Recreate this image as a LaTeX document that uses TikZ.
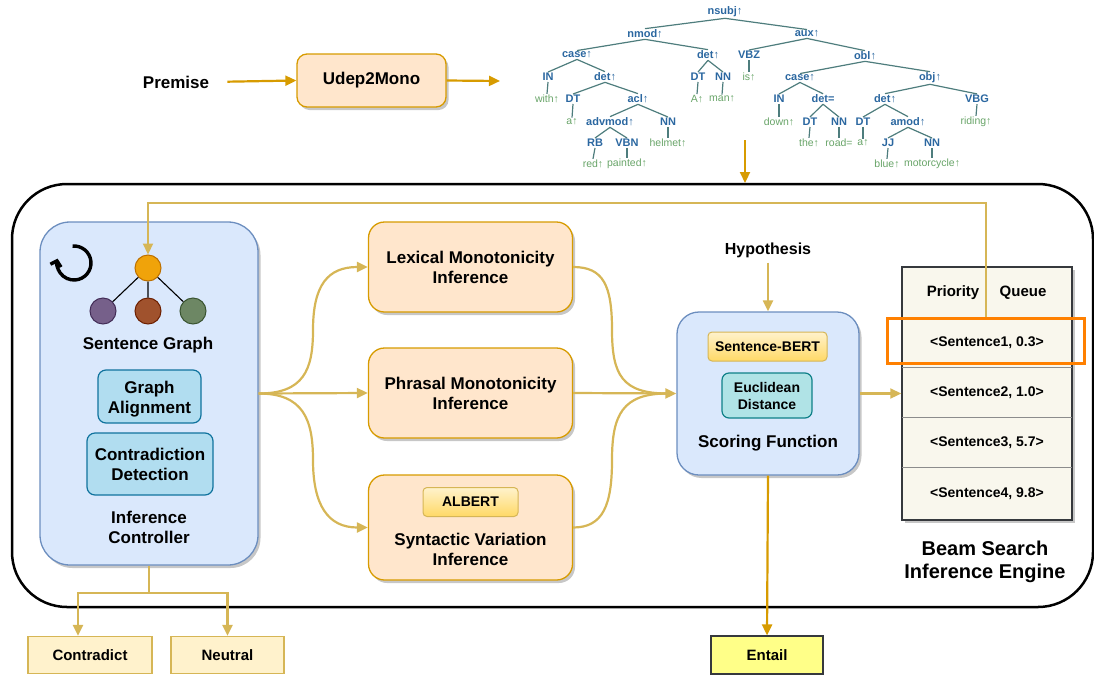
\documentclass[tikz,border=0pt]{standalone}
\usepackage{fontspec}
\setmainfont{Liberation Sans}
\usetikzlibrary{arrows.meta,shadows}
\definecolor{peach}{HTML}{FFE6CC}
\definecolor{peachb}{HTML}{D79B00}
\definecolor{bluef}{HTML}{DAE8FC}
\definecolor{blueb}{HTML}{6C8EBF}
\definecolor{lbf}{HTML}{B1DDF0}
\definecolor{lbb}{HTML}{10739E}
\definecolor{tealf}{HTML}{B0E3E6}
\definecolor{tealb}{HTML}{0E8088}
\definecolor{yelt}{HTML}{FFF2CC}
\definecolor{yelb}{HTML}{FFD966}
\definecolor{yelbd}{HTML}{D6B656}
\definecolor{entf}{HTML}{FFFF88}
\definecolor{darkb}{HTML}{36393D}
\definecolor{pqf}{HTML}{F9F7ED}
\definecolor{conn}{HTML}{D6B656}
\definecolor{depblue}{HTML}{2B67A0}
\definecolor{depgreen}{HTML}{68A468}
\definecolor{depline}{HTML}{4E7D7D}
\definecolor{hlor}{HTML}{FF8000}
\definecolor{gor}{HTML}{F0A30A}\definecolor{gorb}{HTML}{BD7000}
\definecolor{gpu}{HTML}{76608A}\definecolor{gpub}{HTML}{432D57}
\definecolor{gbr}{HTML}{A0522D}\definecolor{gbrb}{HTML}{6D1F00}
\definecolor{ggr}{HTML}{6D8764}\definecolor{ggrb}{HTML}{3A5431}
\newcommand\myfs[2]{\fontsize{#1}{#2}\selectfont}
\begin{document}
\begin{tikzpicture}[x=1pt,y=-1pt,
  shad/.style={drop shadow={shadow xshift=2.5pt,shadow yshift=-3pt,fill=black,opacity=0.22}},
  lbl/.style={font=\bfseries\myfs{17}{20}, align=center, inner sep=0pt},
  peachbox/.style={draw=peachb, fill=peach, line width=1.3pt, rounded corners=16pt, shad, lbl},
  bluebox/.style={draw=blueb, fill=bluef, line width=1.3pt, shad, lbl},
  lbbox/.style={draw=lbb, fill=lbf, line width=1.2pt, rounded corners=8pt, lbl},
  tealbox/.style={draw=tealb, fill=tealf, line width=1.2pt, rounded corners=7pt, lbl, font=\bfseries\myfs{14}{17}},
  gradbox/.style={draw=yelbd, top color=yelt, bottom color=yelb, line width=1pt, rounded corners=4pt, lbl, font=\bfseries\myfs{14}{16}},
  outbox/.style={draw=yelbd, fill=yelt, line width=1.2pt, lbl, font=\bfseries\myfs{15}{17}},
  gnode/.style={circle, minimum size=26pt, inner sep=0pt, line width=1pt},
  pqrow/.style={minimum width=170pt, inner sep=0pt, font=\bfseries\myfs{14}{16}},
  sep/.style={draw=black!45, line width=1pt},
  carr/.style={draw=conn, line width=2.2pt, -{Triangle[length=11pt,width=10pt]}},
  cline/.style={draw=conn, line width=2.2pt},
  darr/.style={draw=peachb, line width=2.2pt, -{Triangle[length=11pt,width=10pt]}},
  dl/.style={text=depblue, font=\bfseries\myfs{11}{12}, inner sep=1pt},
  dw/.style={text=depgreen, font=\myfs{10.5}{12}, inner sep=1pt},
  de/.style={draw=depline, line width=1.2pt}
]
\useasboundingbox (0,0) rectangle (1094,675);

% ---------- top row ----------
\node[lbl] (prem) at (176,82) {Premise};
\node[peachbox, rounded corners=10pt, minimum width=149pt, minimum height=53pt] (udep) at (371.5,80.5) {Udep2Mono};
\coordinate (treein) at (500,81);
\draw[darr, shorten <=18pt] (prem.east) -- (udep.west);
\draw[darr] (udep.east) -- (treein);

% ---------- dependency tree ----------
\node[dl] (n0) at (725,12) {nsubj↑};
\node[dl] (n1) at (645,34) {nmod↑};
\node[dl] (n2) at (807,34) {aux↑};
\node[dl] (n3) at (577,55) {case↑};
\node[dl] (n4) at (708,55) {det↑};
\node[dl] (n5) at (749,55) {VBZ};
\node[dl] (n6) at (865,56) {obl↑};
\node[dl] (n7) at (548,77) {IN};
\node[dw] (w7) at (547,99) {with↑};
\node[dl] (n8) at (605,77) {det↑};
\node[dl] (n9) at (698,77) {DT};
\node[dw] (w9) at (697,99) {A↑};
\node[dl] (n10) at (723,77) {NN};
\node[dw] (w10) at (722,99) {man↑};
\node[dw] (w5) at (749,77) {is↑};
\node[dl] (n11) at (800,78) {case↑};
\node[dl] (n12) at (930,78) {obj↑};
\node[dl] (n13) at (573,99) {DT};
\node[dw] (w13) at (572,122) {a↑};
\node[dl] (n14) at (638,99) {acl↑};
\node[dl] (n15) at (779,99) {IN};
\node[dw] (w15) at (779,122) {down↑};
\node[dl] (n16) at (823,99) {det=};
\node[dl] (n17) at (885,99) {det↑};
\node[dl] (n18) at (977,99) {VBG};
\node[dw] (w18) at (976,122) {riding↑};
\node[dl] (n19) at (610,122) {advmod↑};
\node[dl] (n20) at (668,122) {NN};
\node[dw] (w20) at (668,143) {helmet↑};
\node[dl] (n21) at (810,122) {DT};
\node[dw] (w21) at (809,143) {the↑};
\node[dl] (n22) at (839,122) {NN};
\node[dw] (w22) at (839,143) {road=};
\node[dl] (n23) at (863,122) {DT};
\node[dw] (w23) at (863,143) {a↑};
\node[dl] (n24) at (908,122) {amod↑};
\node[dl] (n25) at (595,143) {RB};
\node[dw] (w25) at (593,164) {red↑};
\node[dl] (n26) at (627,143) {VBN};
\node[dw] (w26) at (627,164) {painted↑};
\node[dl] (n27) at (888,143) {JJ};
\node[dw] (w27) at (887,164) {blue↑};
\node[dl] (n28) at (932,143) {NN};
\node[dw] (w28) at (932,164) {motorcycle↑};
\foreach \a/\b in {n0/n1,n0/n2,n1/n3,n1/n4,n3/n7,n3/n8,n7/w7,n8/n13,n8/n14,n13/w13,
  n14/n19,n14/n20,n19/n25,n19/n26,n25/w25,n26/w26,n20/w20,n4/n9,n4/n10,n9/w9,n10/w10,
  n2/n5,n2/n6,n5/w5,n6/n11,n6/n12,n11/n15,n11/n16,n15/w15,n16/n21,n16/n22,n21/w21,n22/w22,
  n12/n17,n12/n18,n17/n23,n17/n24,n23/w23,n24/n27,n24/n28,n27/w27,n28/w28,n18/w18}
  \draw[de] (\a.south) -- (\b.north);

% ---------- big engine frame ----------
\draw[line width=2.5pt, rounded corners=55pt] (12,184) rectangle (1093,607);
\coordinate (treeout) at (745,140);
\coordinate (boxtop) at (745,183);
\draw[darr] (treeout) -- (boxtop);

% ---------- inference controller ----------
\node[bluebox, rounded corners=30pt, minimum width=218pt, minimum height=343pt] (ctrl) at (149,393.5) {};
\coordinate (loopc) at (74,263);
\draw[line width=3.4pt, -{Straight Barb[length=5pt,width=11pt]}] (loopc) ++(95:17pt) arc[start angle=95, end angle=-195, radius=17pt];
\node[gnode, fill=gor, draw=gorb] (o) at (148,268) {};
\node[gnode, fill=gpu, draw=gpub] (gp) at (103,311) {};
\node[gnode, fill=gbr, draw=gbrb] (gb) at (148,311) {};
\node[gnode, fill=ggr, draw=ggrb] (gg) at (193,311) {};
\draw[line width=1.1pt] (o) -- (gp) (o) -- (gb) (o) -- (gg);
\node[lbl] (sg) at (148,345) {Sentence Graph};
\node[lbbox, minimum width=103pt, minimum height=53pt] (ga) at (149.5,396.5) {};
\node[lbl] (gat) at (149.5,399.5) {Graph\\Alignment};
\node[lbbox, minimum width=126pt, minimum height=62pt] (cd) at (150,464) {Contradiction\\Detection};
\node[lbl] (icl) at (149,527) {Inference\\Controller};

% ---------- inference modules ----------
\node[peachbox, minimum width=204pt, minimum height=90pt] (lex) at (470.5,267) {Lexical Monotonicity\\Inference};
\node[peachbox, minimum width=204pt, minimum height=90pt] (phr) at (470.5,393) {Phrasal Monotonicity\\Inference};
\node[peachbox, minimum width=204pt, minimum height=105pt] (syn) at (470.5,527.5) {};
\node[gradbox, minimum width=95pt, minimum height=29pt] (alb) at (470.5,502) {ALBERT};
\node[lbl] (synt) at (470.5,549) {Syntactic Variation\\Inference};

% ---------- scoring ----------
\node[bluebox, rounded corners=22pt, minimum width=182pt, minimum height=163pt] (score) at (768,393.5) {};
\node[gradbox, minimum width=119pt, minimum height=29pt] (sbert) at (767.5,346.5) {Sentence-BERT};
\node[tealbox, minimum width=90pt, minimum height=45pt] (eu) at (767,395.5) {Euclidean\\Distance};
\node[lbl] (sft) at (768,443) {Scoring Function};
\node[lbl, font=\bfseries\myfs{16}{19}] (hyp) at (768,250) {Hypothesis};

% ---------- fan connectors ----------
\draw[carr] (ctrl.east) .. controls +(45,0) and +(0,40) .. (313,330) .. controls +(0,-45) and +(-40,0) .. (lex.west);
\draw[carr] (ctrl.east) -- (phr.west);
\draw[carr] (ctrl.east) .. controls +(45,0) and +(0,-40) .. (313,460) .. controls +(0,45) and +(-40,0) .. (syn.west);
\draw[cline] (lex.east) .. controls +(30,0) and +(0,-45) .. (612,330) .. controls +(0,45) and +(-45,0) .. ([xshift=-9pt]score.west);
\draw[cline] (syn.east) .. controls +(30,0) and +(0,45) .. (612,460) .. controls +(0,-45) and +(-45,0) .. ([xshift=-9pt]score.west);
\draw[carr] (phr.east) -- (score.west);
\draw[carr, shorten <=5pt] (hyp.south) -- (score.north);

% ---------- priority queue ----------
\node[draw=darkb, fill=pqf, line width=1.5pt, minimum width=170pt, minimum height=253pt, inner sep=0pt, shad] (pq) at (987,393.5) {};
\node[pqrow, minimum height=51pt] (r0) at (987,292.5) {};
\node[font=\bfseries\myfs{15}{17}] (prio) at (953,293) {Priority};
\node[font=\bfseries\myfs{15}{17}] (que) at (1023,293) {Queue};
\node[pqrow, minimum height=50pt] (r1) at (987,343) {<Sentence1, 0.3>};
\node[pqrow, minimum height=50pt] (r2) at (987,393) {<Sentence2, 1.0>};
\node[pqrow, minimum height=50pt] (r3) at (987,443) {<Sentence3, 5.7>};
\node[pqrow, minimum height=52pt] (r4) at (987,494) {<Sentence4, 9.8>};
\draw[sep] (r1.north west) -- (r1.north east);
\draw[sep] (r2.north west) -- (r2.north east);
\draw[sep] (r3.north west) -- (r3.north east);
\draw[sep] (r4.north west) -- (r4.north east);
\draw[carr] (score.east) -- (pq.west);
\coordinate (fbs) at (986,318);
\draw[carr] (fbs) |- (o.north |- 0,203) -- (o.north);
\node[draw=hlor, line width=3pt, minimum width=197pt, minimum height=45pt, inner sep=0pt] (hl) at (985.5,340.5) {};
\node[lbl, font=\bfseries\myfs{20}{23}] (bsie) at (985,562) {Beam Search\\Inference Engine};

% ---------- outputs ----------
\node[outbox, minimum width=124pt, minimum height=37pt] (contr) at (90,655) {Contradict};
\node[outbox, minimum width=113pt, minimum height=37pt] (neu) at (227.5,655) {Neutral};
\node[outbox, fill=entf, draw=darkb, minimum width=112pt, minimum height=38pt] (ent) at (767,655) {Entail};
\coordinate (jn) at (149,593);
\draw[cline] (ctrl.south) -- (jn);
\draw[carr] (jn) -| ([xshift=-12pt]contr.north);
\draw[carr] (jn) -| (neu.north);
\draw[darr] (score.south) -- (ent.north);
\end{tikzpicture}
\end{document}
